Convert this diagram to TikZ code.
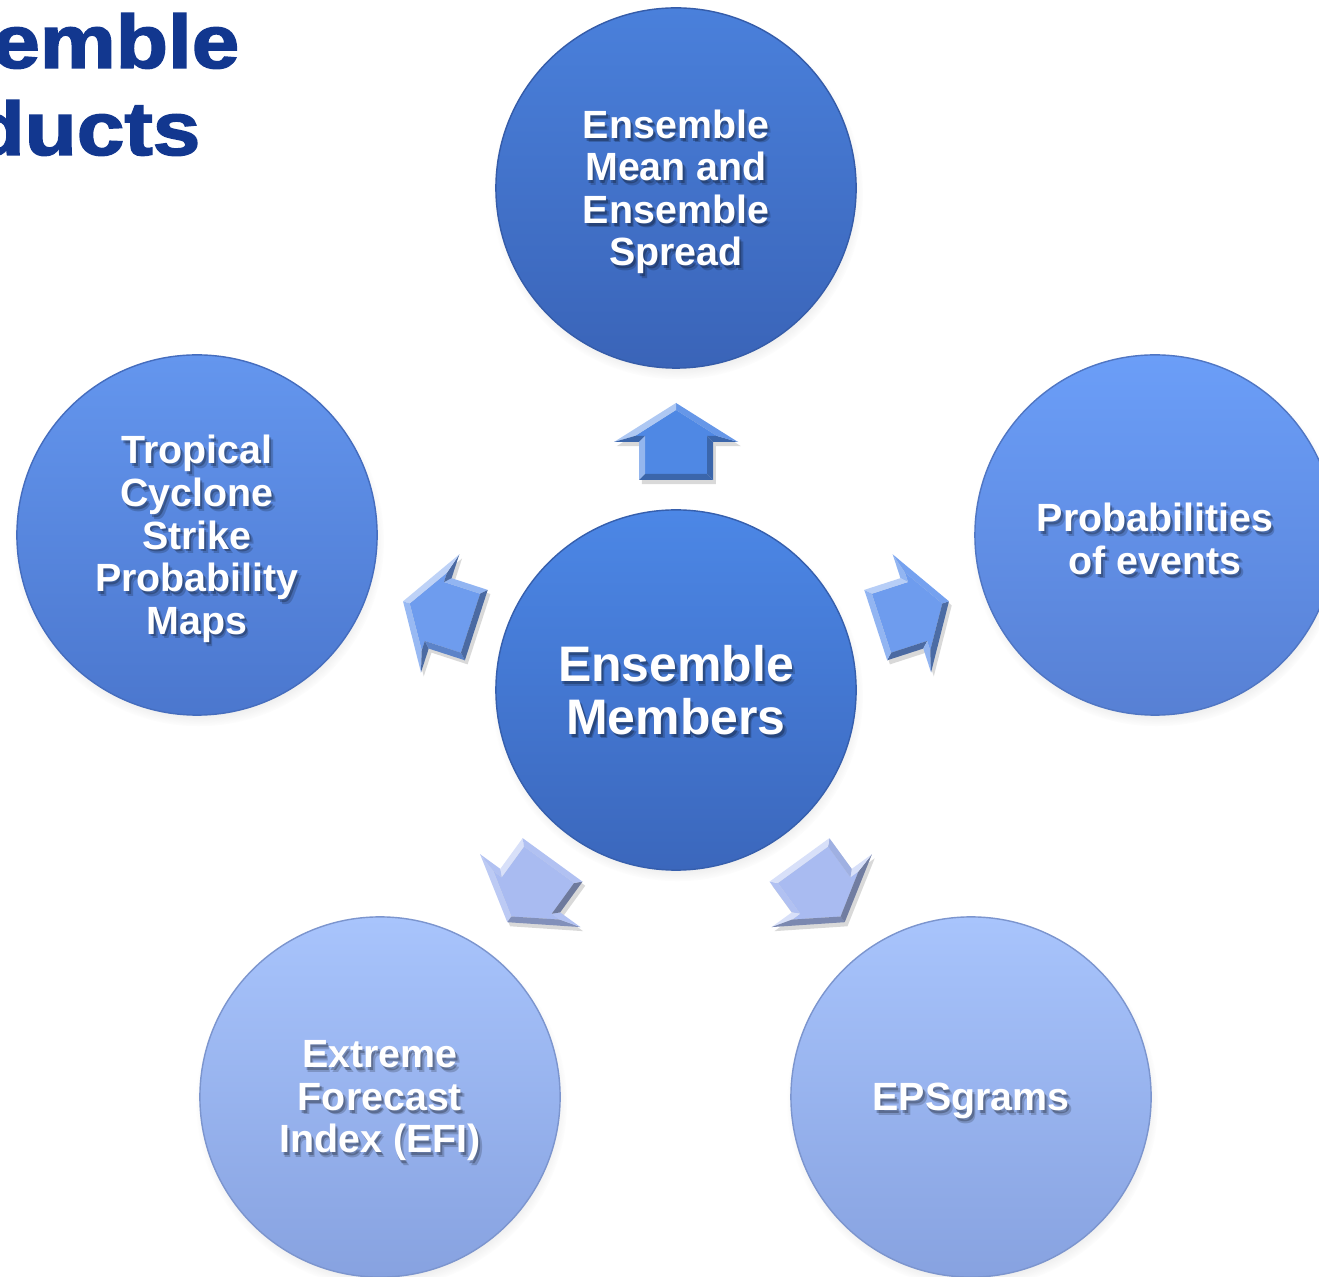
\documentclass[tikz,border=0pt]{standalone}
\usepackage{fontspec}
\setmainfont{Liberation Sans}
\newfontfamily\headingfont[BoldFeatures={FakeBold=2}]{Liberation Sans}
\usetikzlibrary{shadows}

\definecolor{headingblue}{HTML}{12378F}
\definecolor{deepTop}{HTML}{4A80DB}
\definecolor{deepBot}{HTML}{3A64B8}
\definecolor{coreTop}{HTML}{4C87E6}
\definecolor{coreBot}{HTML}{3B67BC}
\definecolor{midTop}{HTML}{6496EE}
\definecolor{midBot}{HTML}{4B77CE}
\definecolor{sideTop}{HTML}{6B9EF8}
\definecolor{sideBot}{HTML}{5780D4}
\definecolor{paleTop}{HTML}{A8C4FC}
\definecolor{paleBot}{HTML}{87A2E0}
\definecolor{arrowDeep}{HTML}{4F88E4}
\definecolor{arrowMid}{HTML}{6E9CEE}
\definecolor{arrowPale}{HTML}{A9BBF1}

\tikzset{
  bubble/.style={circle, minimum size=3.6cm, inner sep=0pt, line width=0.4pt,
    circular drop shadow={shadow xshift=0.4pt, shadow yshift=-1.6pt,
      shadow scale=1.03, opacity=0.3}},
  bubbletext/.style={align=center, inner sep=0pt},
  small caption/.style={bubbletext, yshift=-1.1pt,
    font=\bfseries\fontsize{11.2}{12.1}\selectfont},
  large caption/.style={bubbletext, font=\bfseries\fontsize{14.2}{15}\selectfont},
  heading/.style={anchor=base east, inner sep=0pt, text=headingblue,
    font=\headingfont\bfseries\fontsize{21.5}{22}\selectfont},
}

% a shaded disc with a white caption that casts a soft dark shadow
\newcommand\bubble[6]{%
  \node[bubble, top color=#3, bottom color=#4, draw=#4!92!black] (#1) at (#2) {};
  \node[#5, text=black, opacity=0.18] (#1-blur) at ([xshift=1.0pt, yshift=-1.3pt]#1.center) {#6};
  \node[#5, text=black, opacity=0.25] (#1-shade) at ([xshift=0.5pt, yshift=-0.8pt]#1.center) {#6};
  \node[#5, text=white] (#1-label) at (#1.center) {#6};
}

% a bevelled block arrow leaving the central disc in direction #2
\newcommand\bevelarrow[3]{%
  \begin{scope}[shift={(members.center)}, rotate=#2, x=0.01cm, y=0.01cm]
    \fill[black, opacity=0.15, shift={(-56-#2:1.4pt)}]
      (210,-37) -- (248,-37) -- (248,-62) -- (287,0) -- (248,62) -- (248,37) -- (210,37) -- cycle;
    \fill[#3] (216,-31) -- (254,-31) -- (254,-41) -- (280,0) -- (254,41) -- (254,31) -- (216,31) -- cycle;
    \foreach \ax/\ay/\bx/\by/\cx/\cy/\dx/\dy/\n in {
      210/-37/248/-37/254/-31/216/-31/-90,
      248/-37/248/-62/254/-41/254/-31/180,
      248/-62/287/0/280/0/254/-41/-32,
      287/0/248/62/254/41/280/0/32,
      248/62/248/37/254/31/254/41/180,
      248/37/210/37/216/31/254/31/90,
      210/37/210/-37/216/-31/216/31/180}{
      \pgfmathsetmacro\lit{cos(#2+\n-135)}
      \pgfmathtruncatemacro\lightpct{100-55*max(\lit,0)}
      \pgfmathtruncatemacro\darkpct{100+35*min(\lit,0)}
      \fill[#3!\lightpct!white!\darkpct!black]
        (\ax,\ay) -- (\bx,\by) -- (\cx,\cy) -- (\dx,\dy) -- cycle;
    }
  \end{scope}}

\begin{document}
\begin{tikzpicture}[x=0.01cm, y=-0.01cm]
  \path[use as bounding box, clip] (0,0) rectangle (1319,1277);
  \fill[white] (0,0) rectangle (1319,1277);

  % heading
  \node[heading] (heading-top) at (240,68) {\scalebox{1.13}[1]{emble}};
  \node[heading] (heading-bottom) at (201,155) {\scalebox{1.13}[1]{ducts}};

  % discs
  \bubble{members}{676,690}{coreTop}{coreBot}{large caption}{Ensemble\\Members}
  \bubble{mean}{676,188}{deepTop}{deepBot}{small caption}{Ensemble\\Mean and\\Ensemble\\Spread}
  \bubble{cyclone}{197,535}{midTop}{midBot}{small caption}{Tropical\\Cyclone\\Strike\\Probability\\Maps}
  \bubble{events}{1155,535}{sideTop}{sideBot}{small caption}{Probabilities\\of events}
  \bubble{efi}{380,1097}{paleTop}{paleBot}{small caption}{Extreme\\Forecast\\Index (EFI)}
  \bubble{epsgrams}{971,1097}{paleTop}{paleBot}{small caption}{EPSgrams}

  % arrows from the members disc
  \bevelarrow{to-mean}{90}{arrowDeep}
  \bevelarrow{to-events}{18}{arrowMid}
  \bevelarrow{to-cyclone}{162}{arrowMid}
  \bevelarrow{to-epsgrams}{-54}{arrowPale}
  \bevelarrow{to-efi}{234}{arrowPale}
\end{tikzpicture}
\end{document}
